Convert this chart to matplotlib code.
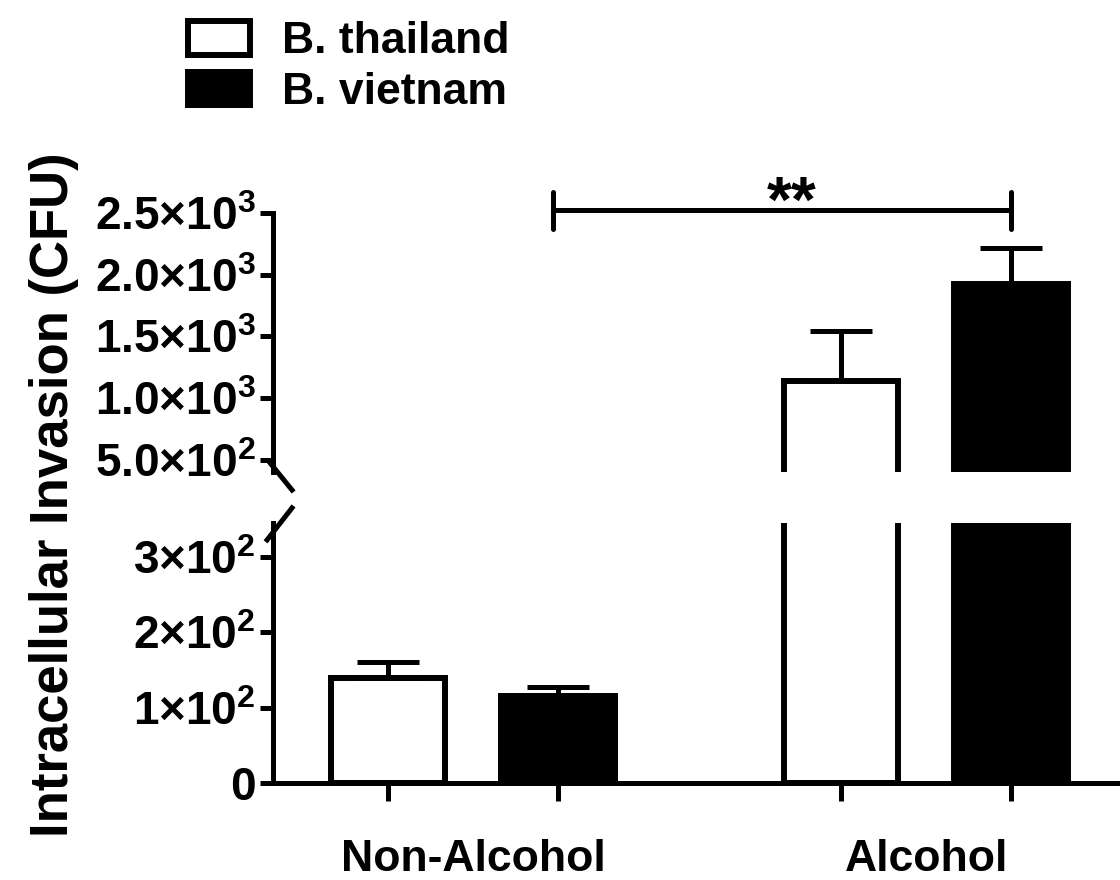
import numpy as np
import matplotlib.pyplot as plt

plt.rcParams['font.family'] = ['Liberation Sans', 'DejaVu Sans']
plt.rcParams['font.weight'] = 'bold'
plt.rcParams['mathtext.fontset'] = 'custom'
plt.rcParams['mathtext.rm'] = 'Liberation Sans:bold'
plt.rcParams['mathtext.default'] = 'rm'

# data: mean CFU and upper SEM per strain
groups = ['Non-Alcohol', 'Alcohol']
strains = ['B. thailand', 'B. vietnam']
thailand_mean = [140, 1140]
thailand_sem = [20, 405]
vietnam_mean = [116, 1925]
vietnam_sem = [11, 292]

upper_ticks = [500, 1000, 1500, 2000, 2500]
upper_labels = [r'$5.0{\times}10^2$', r'$1.0{\times}10^3$', r'$1.5{\times}10^3$',
                r'$2.0{\times}10^3$', r'$2.5{\times}10^3$']
lower_ticks = [0, 100, 200, 300]
lower_labels = ['0', r'$1{\times}10^2$', r'$2{\times}10^2$', r'$3{\times}10^2$']

sig_text = '**'
sig_y = 2524

fs = 32
lw_axis = 3.6
lw_bar = 4.3

fig = plt.figure(figsize=(11.2, 8.8), dpi=100)
ax_up = fig.add_axes([0.2438, 0.4636, 0.7563, 0.2943])
ax_lo = fig.add_axes([0.2438, 0.1102, 0.7563, 0.2955])

x = np.arange(len(groups))
off = 0.1876
width = 0.252

for ax in (ax_up, ax_lo):
    b1 = ax.bar(x - off, thailand_mean, width, color='white', edgecolor='black',
                linewidth=lw_bar, label=strains[0], zorder=2)
    b2 = ax.bar(x + off, vietnam_mean, width, color='black', edgecolor='black',
                linewidth=lw_bar, label=strains[1], zorder=2)
    ax.errorbar(x - off, thailand_mean, yerr=[np.zeros(2), thailand_sem], fmt='none',
                ecolor='black', elinewidth=lw_axis, capsize=22, capthick=lw_axis, zorder=3)
    ax.errorbar(x + off, vietnam_mean, yerr=[np.zeros(2), vietnam_sem], fmt='none',
                ecolor='black', elinewidth=lw_axis, capsize=22, capthick=lw_axis, zorder=3)
    ax.set_xlim(-0.4415, 1.4283)
    ax.spines['top'].set_visible(False)
    ax.spines['right'].set_visible(False)
    ax.spines['left'].set_linewidth(lw_axis)
    ax.spines['bottom'].set_linewidth(lw_axis)
    ax.tick_params(axis='y', length=9.5, width=lw_axis, pad=3, labelsize=33)
    ax.patch.set_alpha(0)

ax_up.set_ylim(400, 2500)
ax_up.set_yticks(upper_ticks, upper_labels)
ax_up.spines['bottom'].set_visible(False)
ax_up.set_xticks([])

ax_lo.set_ylim(0, 345)
ax_lo.set_yticks(lower_ticks, lower_labels)
ax_lo.set_xticks(np.concatenate([x - off, x + off]))
ax_lo.set_xticklabels([])
ax_lo.set_xticks(x, groups, minor=True)
ax_lo.tick_params(axis='x', which='major', length=13, width=lw_axis)
ax_lo.tick_params(axis='x', which='minor', length=0, pad=40, labelsize=fs)

# break marks on the y axis
ax_up.plot([-0.0035, 0.0224], [0.035, -0.0695], color='black', lw=lw_axis,
           transform=ax_up.transAxes, clip_on=False)
ax_lo.plot([-0.007, 0.0224], [0.935, 1.058], color='black', lw=lw_axis,
           transform=ax_lo.transAxes, clip_on=False)

# significance bracket
x1, x2 = x[0] + off - 0.011, x[1] + off
ax_up.plot([x1, x2], [sig_y, sig_y], color='black', lw=lw_axis, clip_on=False)
for xe in (x1, x2):
    ax_up.plot([xe, xe], [sig_y - 150, sig_y + 150], color='black', lw=lw_axis,
               solid_capstyle='round', clip_on=False)
ax_up.text((x1 + x2) / 2 + 0.022, sig_y - 95, sig_text, ha='center', va='baseline',
           fontsize=46, fontweight='bold')

fig.text(0.048, 0.4375, 'Intracellular Invasion (CFU)', rotation=90, ha='center',
         va='center', fontsize=38, fontweight='bold')

fig.legend(handles=[b1, b2], loc='upper left', bbox_to_anchor=(0.1675, 0.976),
           frameon=False, fontsize=fs, handlelength=1.4, handleheight=0.78,
           handletextpad=0.72, labelspacing=0.22, borderpad=0, borderaxespad=0)

fig.savefig('out.png', dpi=100)
